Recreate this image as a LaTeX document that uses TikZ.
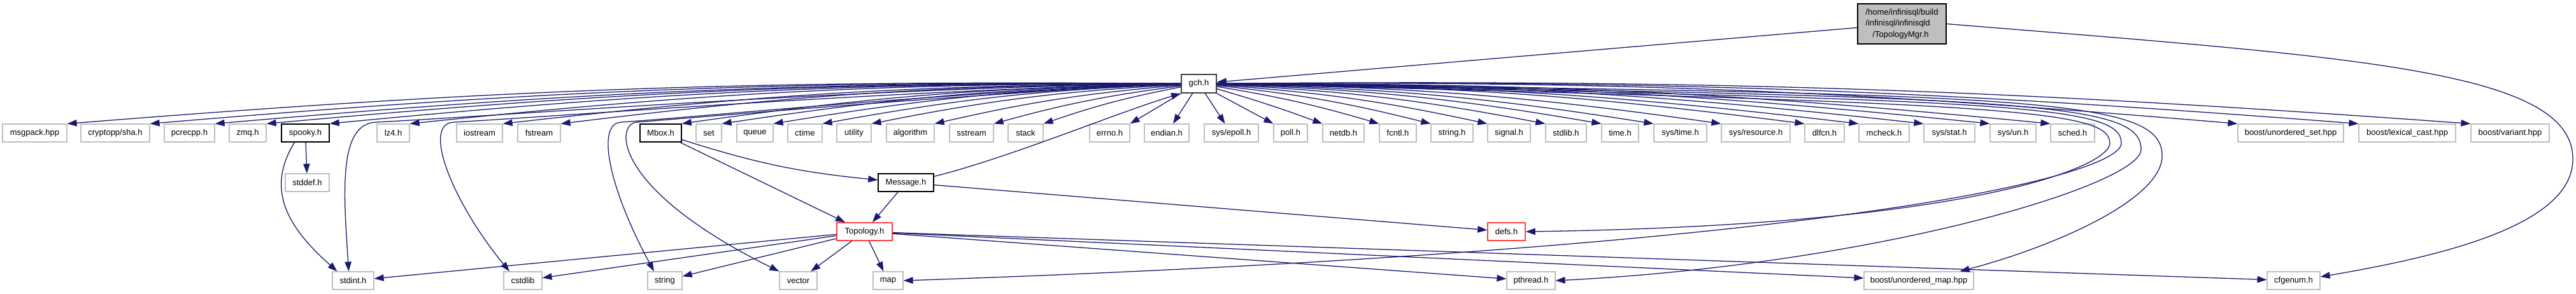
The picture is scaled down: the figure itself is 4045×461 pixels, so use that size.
\documentclass[tikz,border=0pt]{standalone}
\usepackage{fontspec}
\setmainfont{Liberation Sans}
\usetikzlibrary{arrows.meta}
\definecolor{edgeblue}{RGB}{25,25,112}
\definecolor{boxgray}{RGB}{191,191,191}
\definecolor{hubgray}{RGB}{64,64,64}
\definecolor{cutred}{RGB}{255,64,64}
\tikzset{
  file/.style={draw, fill=white, inner sep=0pt, minimum height=7pt,
    font=\fontsize{3.25}{3.9}\selectfont},
  inc/.style={file, draw=boxgray, line width=0.3pt},
  own/.style={file, draw=black, line width=0.375pt},
  cut/.style={file, draw=cutred, line width=0.375pt},
  hub/.style={file, draw=hubgray, line width=0.45pt, minimum height=7.25pt},
  root/.style={file, draw=black, fill=boxgray, line width=0.375pt, align=left,
    minimum height=15.75pt, font=\fontsize{3.25}{4.4}\selectfont},
  dep/.style={draw=edgeblue, line width=0.32pt, -{Triangle[length=3.75pt,width=2.6pt]}},
}
\begin{document}
\begin{tikzpicture}[x=0.25pt, y=0.25pt]
  \path[use as bounding box, fill=white] (0,0) rectangle (4045,-461);
  % File and its direct include
  \node[root, minimum width=34.75pt] (mgr) at (2986.5,-37.5)
    {/home/infinisql/build\\/infinisql/infinisqld\\\hspace*{2.75pt}/TopologyMgr.h};
  \node[hub, minimum width=13.75pt] (gch) at (1882.5,-131.5) {gch.h};
  % Headers pulled in by gch.h
  \foreach \n/\x/\w/\c/\t in {
      msgpack/54.5/101/boxgray/msgpack.hpp,
      sha/181/108/boxgray/{cryptopp/sha.h},
      pcre/297.5/79/boxgray/pcrecpp.h,
      zmq/389/58/boxgray/zmq.h,
      lzf/617.5/51/boxgray/lz4.h,
      iostream/753/72/boxgray/iostream,
      fstream/846.5/67/boxgray/fstream,
      set/1113/40/boxgray/set,
      queue/1185.5/57/boxgray/queue,
      ctime/1264/54/boxgray/ctime,
      utility/1341/54/boxgray/utility,
      algorithm/1429.5/75/boxgray/algorithm,
      sstream/1525.5/69/boxgray/sstream,
      stack/1610.5/55/boxgray/stack,
      errno/1742.5/63/boxgray/errno.h,
      endian/1832/70/boxgray/endian.h,
      epoll/1933.5/85/boxgray/{sys/epoll.h},
      poll/2026.5/53/boxgray/poll.h,
      netdb/2109.5/65/boxgray/netdb.h,
      fcntl/2195/58/boxgray/fcntl.h,
      stringh/2280/66/boxgray/string.h,
      signal/2369.5/67/boxgray/signal.h,
      stdlib/2459/64/boxgray/stdlib.h,
      timeh/2544/58/boxgray/time.h,
      systime/2638.5/83/boxgray/{sys/time.h},
      resource/2757/108/boxgray/{sys/resource.h},
      dlfcn/2865/62/boxgray/dlfcn.h,
      mcheck/2958.5/79/boxgray/mcheck.h,
      sysstat/3061/80/boxgray/{sys/stat.h},
      sysun/3161/72/boxgray/{sys/un.h},
      sched/3254.5/69/boxgray/sched.h,
      uset/3597/166/boxgray/{boost/unordered\_set.hpp},
      lexcast/3780/152/boxgray/{boost/lexical\_cast.hpp},
      variant/3941.5/123/boxgray/{boost/variant.hpp}}
    \node[inc, draw=\c, minimum width=0.25*\w pt] (\n) at (\x,-209) {\t};
  \node[own, minimum width=18.75pt] (spooky) at (479.5,-209) {spooky.h};
  \node[own, minimum width=16.25pt] (mbox) at (1037.5,-209) {Mbox.h};
  \node[inc, minimum width=17.25pt] (stddef) at (482.5,-287) {stddef.h};
  \node[own, minimum width=21.75pt] (message) at (1422.5,-287) {Message.h};
  \node[cut, minimum width=21.75pt] (topology) at (1357.5,-364) {Topology.h};
  \node[cut, minimum width=14.75pt] (defs) at (2365.5,-364) {defs.h};
  % Bottom row
  \foreach \n/\x/\w/\t in {
      stdint/554.5/65/stdint.h,
      cstdlib/821/60/cstdlib,
      string/1044/54/string,
      vector/1253.5/59/vector,
      map/1394.5/47/map,
      pthread/2404/76/pthread.h,
      umap/3013/172/{boost/unordered\_map.hpp},
      cfgenum/3601.5/83/cfgenum.h}
    \node[inc, minimum width=0.25*\w pt] (\n) at (\x,-441) {\t};

  % Includes of the file itself
  \draw[dep] (mgr) -- (gch);
  \draw[dep] (mgr.east) .. controls (3700,-90) and (4040,-110) .. (4040,-250)
    .. controls (4040,-350) and (3850,-400) .. ([yshift=1.5pt]cfgenum.east);

  % gch.h fan to the first row
  \foreach \n/\b in {msgpack/2.5, sha/2.6, pcre/2.6, zmq/2.7, spooky/2.8, lzf/3,
      iostream/3.1, fstream/3.3, mbox/3.5, set/3.6, queue/3.8, ctime/4,
      utility/4, algorithm/4, sstream/4, stack/4}
    \draw[dep] (gch) to[bend right=\b] (\n.north east);
  \draw[dep] (gch.south west) -- (errno.north east);
  \draw[dep] ([xshift=-2.5pt]gch.south) -- ([xshift=2.5pt]endian.north);
  \draw[dep] ([xshift=2.5pt]gch.south) -- ([xshift=-2.5pt]epoll.north);
  \draw[dep] (gch.south east) -- (poll.north west);
  \foreach \n/\b in {netdb/2, fcntl/3.5, stringh/4, signal/4, stdlib/4,
      timeh/3.9, systime/3.8, resource/3.6, dlfcn/3.4, mcheck/3.2, sysstat/3.1,
      sysun/2.9, sched/2.8, uset/2.6, lexcast/2.4, variant/2.3}
    \draw[dep] (gch) to[bend left=\b] (\n.north west);

  % gch.h to headers further down, left side
  \draw[dep] (gch.west) .. controls (1355,-137) and (790,-182) .. (590,-192)
    .. controls (530,-195) and (540,-307) .. ([xshift=-1.75pt]stdint.north);
  \draw[dep] (gch.west) .. controls (1405,-141) and (862,-184) .. (712,-192)
    .. controls (662,-195) and (710,-317) .. ([xshift=-5.25pt]cstdlib.north);
  \draw[dep] (gch.west) .. controls (1505,-143) and (1095,-184) .. (975,-192)
    .. controls (935,-195) and (957,-297) .. ([xshift=-4.25pt]string.north);
  \draw[dep] (gch.west) .. controls (1555,-145) and (1100,-184) .. (1000,-192)
    .. controls (965,-195) and (962,-297) .. (vector.north west);
  % gch.h to headers further down, loops on the right
  \draw[dep] (gch.east) .. controls (3150,-162) and (3313,-172) .. (3313,-225)
    .. controls (3313,-262) and (3095,-354) .. (defs.east);
  \draw[dep] (gch.east) .. controls (3170,-157) and (3331,-165) .. (3331,-225)
    .. controls (3331,-275) and (2900,-390) .. (map.east);
  \draw[dep] (gch.east) .. controls (3190,-152) and (3362,-160) .. (3362,-235)
    .. controls (3362,-290) and (2950,-415) .. (pthread.east);
  \draw[dep] (gch.east) .. controls (3210,-147) and (3395,-155) .. (3395,-245)
    .. controls (3395,-313) and (3227,-387) .. ([xshift=-5.5pt]umap.north east);

  % spooky.h
  \draw[dep] (spooky) -- (stddef);
  \draw[dep] ([xshift=-4.25pt]spooky.south) .. controls (415,-300) and (455,-360)
    .. ([xshift=-6.25pt]stdint.north);
  % Mbox.h and Message.h
  \draw[dep] (mbox) to[bend right=6] (message);
  \draw[dep] (mbox) -- (topology);
  \draw[dep] ([yshift=-1.25pt]message.north east) .. controls +(120,30) and +(-100,-30)
    .. (gch.south west);
  \draw[dep] (message) -- (topology);
  \draw[dep] (message) -- (defs);
  % Topology.h
  \foreach \n in {stdint, cstdlib, string, vector, map, pthread, umap, cfgenum}
    \draw[dep] (topology) -- (\n);
\end{tikzpicture}
\end{document}
